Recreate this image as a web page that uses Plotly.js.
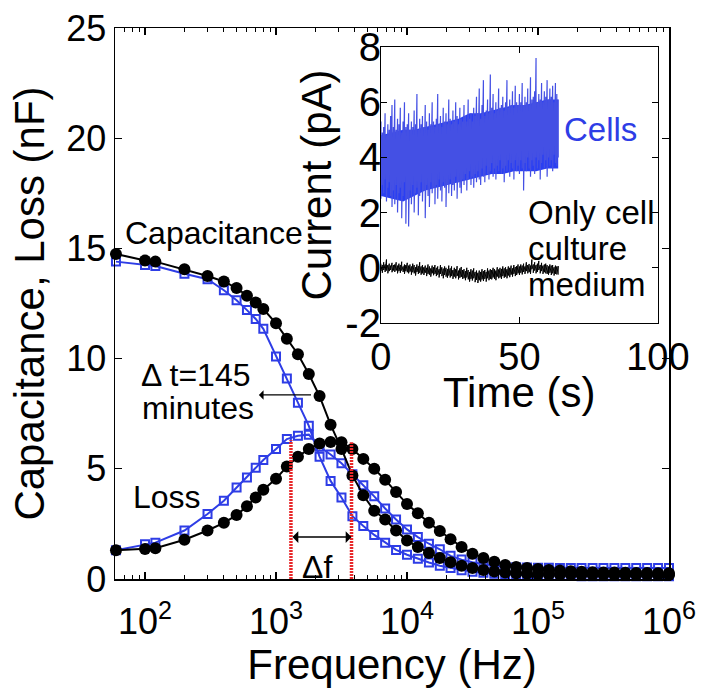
<!DOCTYPE html>
<html>
<head>
<meta charset="utf-8">
<script src="https://cdn.plot.ly/plotly-3.0.1.min.js"></script>
<style>
html,body{margin:0;padding:0;background:#fff;}
#chart{width:702px;height:688px;}
</style>
</head>
<body>
<div id="chart"></div>
<script>
// ---------- Main chart data: impedance sweep ----------
const frequencyHz = [60, 100, 120, 200, 300, 400, 500, 600, 700, 800,
  1000, 1210, 1470, 1780, 2150, 2610, 3160, 3830, 4640, 5620, 6810, 8250,
  10000, 12100, 14700, 17800, 21500, 26100, 31600, 38300, 46400, 56200, 68100, 82500,
  100000, 121000, 147000, 178000, 215000, 261000, 316000, 383000, 464000, 562000, 681000, 825000, 1000000];

// black filled circles: initial measurement
const capacitanceT0 = [14.75, 14.45, 14.4, 14.05, 13.75, 13.5, 13.2, 12.85, 12.55, 12.25,
  11.6, 10.9, 10.2, 9.3, 8.3, 7.0, 5.9, 4.7, 3.8, 3.1, 2.7, 2.2,
  1.75, 1.45, 1.18, 0.95, 0.76, 0.6, 0.5, 0.41, 0.34, 0.29, 0.26, 0.24,
  0.23, 0.22, 0.21, 0.21, 0.2, 0.2, 0.2, 0.19, 0.19, 0.19, 0.19, 0.18, 0.18];
const lossT0 = [1.3, 1.36, 1.4, 1.78, 2.2, 2.55, 2.9, 3.3, 3.7, 4.05,
  4.55, 5.1, 5.55, 5.9, 6.15, 6.22, 6.2, 5.9, 5.45, 5.0, 4.5, 3.95,
  3.4, 2.98, 2.55, 2.18, 1.8, 1.45, 1.15, 0.95, 0.78, 0.64, 0.55, 0.5,
  0.45, 0.41, 0.38, 0.35, 0.33, 0.31, 0.3, 0.29, 0.28, 0.27, 0.27, 0.26, 0.26];

// blue open squares: after 145 minutes
const capacitanceT145 = [14.4, 14.25, 14.2, 13.85, 13.6, 13.1, 12.65, 12.2, 11.8, 11.35,
  10.1, 9.1, 8.0, 6.95, 5.55, 4.45, 3.7, 2.85, 2.4, 2.0, 1.65, 1.32,
  1.1, 0.92, 0.75, 0.6, 0.5, 0.4, 0.33, 0.28, 0.24, 0.21, 0.19, 0.17,
  0.16, 0.15, 0.14, 0.14, 0.13, 0.13, 0.13, 0.12, 0.12, 0.12, 0.12, 0.12, 0.12];
const lossT145 = [1.3, 1.58, 1.65, 2.2, 2.95, 3.55, 4.15, 4.6, 5.05, 5.4,
  5.9, 6.35, 6.5, 6.55, 6.0, 5.65, 5.25, 4.75, 4.25, 3.75, 3.2, 2.7,
  2.25, 1.9, 1.6, 1.35, 1.05, 0.88, 0.76, 0.67, 0.6, 0.56, 0.53, 0.52,
  0.51, 0.51, 0.5, 0.5, 0.5, 0.5, 0.5, 0.5, 0.5, 0.5, 0.5, 0.5, 0.5];

// loss-peak markers (red dotted lines) and their heights
const peakFreqT145 = 1300;
const peakFreqT0 = 3770;
const peakLineTopT145 = 6.3;
const peakLineTopT0 = 6.2;

// tick labels
const freqTickVals = [1e2, 1e3, 1e4, 1e5, 1e6];
const freqTickText = ['10<sup>2</sup>', '10<sup>3</sup>', '10<sup>4</sup>', '10<sup>5</sup>', '10<sup>6</sup>'];
const capTickVals = [0, 5, 10, 15, 20, 25];
const timeTickVals = [0, 50, 100];
const currentTickVals = [-2, 0, 2, 4, 6, 8];
const currentTickText = ['-2', '0', '2', '4', '6', '8'];

// ---------- Inset data: current vs time ----------
// dense core of the "Cells" trace
const coreTimeS = [0, 4, 8, 12, 16, 20, 24, 28, 32, 36, 40, 44, 48, 52, 56, 60, 64];
const cellsCoreTop = [4.8, 4.9, 5.0, 5.0, 5.1, 5.2, 5.3, 5.4, 5.6, 5.6, 5.7, 5.8, 5.9, 5.9, 6.0, 6.1, 6.1];
const cellsCoreBottom = [2.6, 2.5, 2.4, 2.6, 2.8, 2.9, 3.0, 3.1, 3.2, 3.3, 3.4, 3.4, 3.5, 3.5, 3.5, 3.6, 3.6];
// upper / lower excursions of the noisy traces
const timeS = [0,0.5,1,1.5,2,2.5,3,3.5,4,4.5,5,5.5,6,6.5,7,7.5,8,8.5,9,9.5,
  10,10.5,11,11.5,12,12.5,13,13.5,14,14.5,15,15.5,16,16.5,17,17.5,18,18.5,19,19.5,
  20,20.5,21,21.5,22,22.5,23,23.5,24,24.5,25,25.5,26,26.5,27,27.5,28,28.5,29,29.5,
  30,30.5,31,31.5,32,32.5,33,33.5,34,34.5,35,35.5,36,36.5,37,37.5,38,38.5,39,39.5,
  40,40.5,41,41.5,42,42.5,43,43.5,44,44.5,45,45.5,46,46.5,47,47.5,48,48.5,49,49.5,
  50,50.5,51,51.5,52,52.5,53,53.5,54,54.5,55,55.5,56,56.5,57,57.5,58,58.5,59,59.5,
  60,60.5,61,61.5,62,62.5,63,63.5,64];
const cellsHigh = [5.3,4.9,5.1,5.6,4.8,5.2,5.0,5.5,5.9,5.1,
  6.1,5.0,5.4,5.2,5.8,4.9,5.3,6.0,5.1,5.2,
  5.6,5.0,5.3,5.1,5.7,5.2,6.3,5.0,5.4,5.2,
  5.5,5.1,5.9,5.3,5.0,5.6,5.2,6.0,5.3,5.1,
  5.4,6.3,5.2,5.5,5.1,5.8,5.3,5.6,5.2,6.1,
  5.4,5.2,5.7,5.3,6.0,5.5,5.2,5.8,5.4,5.3,
  5.9,5.5,5.3,6.1,5.4,5.6,5.3,5.8,5.5,6.2,
  5.6,6.5,5.4,5.9,6.8,5.5,5.7,6.1,5.6,7.0,
  5.8,6.3,5.6,6.0,5.7,6.5,5.8,5.9,6.2,5.7,
  6.0,6.8,5.8,6.1,5.9,6.4,5.8,6.6,6.0,5.9,
  6.3,6.0,6.7,5.9,6.2,6.0,6.5,5.9,6.9,6.1,
  6.2,6.4,7.6,6.0,6.3,6.1,6.7,6.0,6.4,6.2,
  6.8,6.1,6.5,6.2,6.6,6.0,6.7,6.3,6.1];
const cellsLow = [2.5,3.0,2.7,3.2,2.4,2.9,3.1,2.6,2.2,2.8,
  2.3,3.0,2.0,2.7,2.9,1.8,2.6,3.1,1.6,2.5,
  1.5,2.8,2.3,3.0,2.0,2.7,2.9,1.9,2.6,3.1,
  2.4,2.8,1.8,3.0,2.6,2.2,3.1,2.7,2.9,2.3,
  3.0,2.5,3.2,2.8,2.4,3.1,2.9,2.2,3.0,2.7,
  3.2,2.6,3.0,2.8,3.3,2.5,3.1,2.9,2.7,3.2,
  3.0,3.4,2.8,3.2,3.5,3.0,3.3,2.9,3.4,3.1,
  3.5,3.2,3.0,3.6,3.3,3.1,3.7,3.4,3.2,3.5,
  3.8,3.3,3.6,3.2,3.7,3.5,3.9,3.4,3.6,3.1,
  3.7,3.5,3.9,3.3,3.8,3.6,3.2,3.9,3.5,3.7,
  3.4,3.9,3.6,2.8,3.8,3.5,4.0,3.6,3.3,3.9,
  3.7,3.4,4.0,3.6,3.9,3.2,3.8,4.1,3.6,3.9,
  3.3,4.0,3.7,3.9,3.5,4.1,3.8,3.7,4.0];
const mediumHigh = [0.15,0.1,0.2,0.12,0.3,0.1,0.15,0.08,0.18,0.1,
  0.12,0.2,0.08,0.15,0.1,0.22,0.05,0.12,0.1,0.18,
  0.08,0.12,0.05,0.15,0.1,0.02,0.12,0.06,0.2,0.05,
  0.1,0.02,0.08,0.0,0.12,0.05,-0.02,0.08,0.02,0.1,
  0.0,0.05,-0.05,0.1,0.02,-0.03,0.05,0.0,-0.05,0.08,
  -0.02,0.05,-0.08,0.0,-0.05,0.06,-0.1,-0.02,0.03,-0.08,
  -0.05,-0.12,0.0,-0.08,-0.15,-0.05,-0.1,-0.02,-0.15,-0.1,
  -0.18,-0.1,-0.15,-0.05,-0.12,-0.08,-0.15,-0.02,-0.1,-0.05,
  -0.08,0.0,-0.05,-0.1,0.02,-0.06,0.0,-0.04,0.05,-0.02,
  0.02,-0.05,0.05,0.0,0.08,-0.02,0.1,0.03,0.06,0.12,
  0.05,0.12,0.08,0.15,0.05,0.2,0.1,0.14,0.08,0.3,
  0.12,0.2,0.1,0.15,0.25,0.1,0.18,0.08,0.12,0.15,
  0.1,0.05,0.12,0.08,0.1,0.02,0.08,0.05,0.06];
const mediumLow = [-0.12,-0.18,-0.08,-0.15,-0.1,-0.2,-0.12,-0.08,-0.16,-0.1,
  -0.15,-0.1,-0.2,-0.12,-0.18,-0.1,-0.15,-0.22,-0.12,-0.16,
  -0.2,-0.14,-0.25,-0.16,-0.2,-0.28,-0.15,-0.22,-0.18,-0.25,
  -0.2,-0.26,-0.18,-0.3,-0.22,-0.25,-0.32,-0.2,-0.27,-0.22,
  -0.3,-0.25,-0.35,-0.22,-0.3,-0.38,-0.26,-0.32,-0.36,-0.28,
  -0.35,-0.3,-0.4,-0.32,-0.38,-0.3,-0.42,-0.36,-0.33,-0.4,
  -0.38,-0.45,-0.35,-0.42,-0.5,-0.4,-0.46,-0.38,-0.52,-0.44,
  -0.55,-0.45,-0.5,-0.42,-0.48,-0.4,-0.5,-0.38,-0.45,-0.4,
  -0.42,-0.35,-0.4,-0.45,-0.32,-0.38,-0.35,-0.4,-0.3,-0.36,
  -0.32,-0.38,-0.28,-0.34,-0.25,-0.32,-0.22,-0.3,-0.26,-0.2,
  -0.26,-0.18,-0.24,-0.15,-0.22,-0.12,-0.2,-0.16,-0.22,-0.05,
  -0.18,-0.1,-0.2,-0.15,-0.08,-0.2,-0.12,-0.22,-0.16,-0.2,
  -0.22,-0.25,-0.18,-0.26,-0.2,-0.28,-0.22,-0.24,-0.25];

// ---------- styling ----------
const FONT = 'Liberation Sans, Arial, Helvetica, sans-serif';
const BLUE = '#2e3de6';
const CORE_BLUE = '#2a3ff2';
const SPIKE_BLUE = '#4450e4';
const BLACK = '#000000';
const RED = '#e8282a';

// interleave upper/lower excursions into one trace
function excursionTrace(t, hi, lo) {
  const x = [], y = [];
  for (let i = 0; i < t.length; i++) {
    x.push(t[i], t[i]);
    y.push(hi[i], lo[i]);
  }
  return {x, y};
}
const cellsTrace = excursionTrace(timeS, cellsHigh, cellsLow);
const mediumTrace = excursionTrace(timeS, mediumHigh, mediumLow);

const blueMarker = {symbol: 'square-open', size: 8, color: BLUE, line: {width: 2, color: BLUE}};
const blackMarker = {symbol: 'circle', size: 12, color: BLACK};

const traces = [
  {x: frequencyHz, y: capacitanceT145, mode: 'lines+markers', line: {color: BLUE, width: 2}, marker: blueMarker, cliponaxis: false, xaxis: 'x', yaxis: 'y'},
  {x: frequencyHz, y: lossT145, mode: 'lines+markers', line: {color: BLUE, width: 2}, marker: blueMarker, cliponaxis: false, xaxis: 'x', yaxis: 'y'},
  {x: frequencyHz, y: capacitanceT0, mode: 'lines+markers', line: {color: BLACK, width: 2}, marker: blackMarker, cliponaxis: false, xaxis: 'x', yaxis: 'y'},
  {x: frequencyHz, y: lossT0, mode: 'lines+markers', line: {color: BLACK, width: 2}, marker: blackMarker, cliponaxis: false, xaxis: 'x', yaxis: 'y'},
  {x: [peakFreqT145, peakFreqT145], y: [0, peakLineTopT145], mode: 'lines', line: {color: RED, width: 3.5, dash: '2px,1px'}, xaxis: 'x', yaxis: 'y'},
  {x: [peakFreqT0, peakFreqT0], y: [0, peakLineTopT0], mode: 'lines', line: {color: RED, width: 3.5, dash: '2px,1px'}, xaxis: 'x', yaxis: 'y'},
  {x: coreTimeS, y: cellsCoreBottom, mode: 'lines', line: {color: CORE_BLUE, width: 0}, xaxis: 'x2', yaxis: 'y2'},
  {x: coreTimeS, y: cellsCoreTop, mode: 'lines', fill: 'tonexty', fillcolor: CORE_BLUE, line: {color: CORE_BLUE, width: 0}, xaxis: 'x2', yaxis: 'y2'},
  {x: cellsTrace.x, y: cellsTrace.y, mode: 'lines', line: {color: SPIKE_BLUE, width: 1.2}, xaxis: 'x2', yaxis: 'y2'},
  {x: mediumTrace.x, y: mediumTrace.y, mode: 'lines', line: {color: BLACK, width: 1}, xaxis: 'x2', yaxis: 'y2'}
];

const L = Math.log10;
const textFont = {family: FONT, size: 32, color: BLACK};
const annotations = [
  {xref: 'x', yref: 'y', x: L(68), y: 15.7, text: 'Capacitance', showarrow: false, xanchor: 'left', yanchor: 'middle', font: textFont},
  {xref: 'x', yref: 'y', x: L(90), y: 9.25, text: 'Δ t=145', showarrow: false, xanchor: 'left', yanchor: 'middle', font: textFont},
  {xref: 'x', yref: 'y', x: L(92), y: 7.75, text: 'minutes', showarrow: false, xanchor: 'left', yanchor: 'middle', font: textFont},
  {xref: 'x', yref: 'y', x: L(78), y: 3.7, text: 'Loss', showarrow: false, xanchor: 'left', yanchor: 'middle', font: textFont},
  {xref: 'x', yref: 'y', x: L(2050), y: 0.55, text: 'Δf', showarrow: false, xanchor: 'center', yanchor: 'middle', font: textFont},
  // Δt arrow (pointing toward lower frequency)
  {xref: 'x', yref: 'y', axref: 'x', ayref: 'y', x: L(740), y: 8.35, ax: L(1900), ay: 8.35, text: '', showarrow: true, arrowhead: 1, arrowsize: 1.3, arrowwidth: 1.2, arrowcolor: BLACK},
  // Δf double arrow
  {xref: 'x', yref: 'y', axref: 'x', ayref: 'y', x: L(peakFreqT0), y: 1.9, ax: L(peakFreqT145), ay: 1.9, text: '', showarrow: true, arrowside: 'end+start', arrowhead: 1, arrowsize: 1.3, arrowwidth: 1.5, arrowcolor: BLACK},
  // inset x-axis title
  {xref: 'x2', yref: 'y2 domain', x: 50, y: -0.25, text: 'Time (s)', showarrow: false, xanchor: 'center', yanchor: 'middle', font: {family: FONT, size: 42, color: BLACK}},
  // inset labels
  {xref: 'x2', yref: 'y2', x: 65.5, y: 5.0, text: 'Cells', showarrow: false, xanchor: 'left', yanchor: 'middle', font: {family: FONT, size: 33, color: BLUE}},
  {xref: 'x2', yref: 'y2', x: 52.5, y: 2.0, text: 'Only cell', showarrow: false, xanchor: 'left', yanchor: 'middle', font: {family: FONT, size: 33, color: BLACK}},
  {xref: 'x2', yref: 'y2', x: 52.5, y: 0.7, text: 'culture', showarrow: false, xanchor: 'left', yanchor: 'middle', font: {family: FONT, size: 33, color: BLACK}},
  {xref: 'x2', yref: 'y2', x: 52.5, y: -0.62, text: 'medium', showarrow: false, xanchor: 'left', yanchor: 'middle', font: {family: FONT, size: 33, color: BLACK}}
];

const axisCommon = {
  showgrid: false, zeroline: false, showline: true, linecolor: BLACK, linewidth: 1.5,
  mirror: 'ticks', ticks: 'inside', tickcolor: BLACK, tickwidth: 1.2, ticklen: 7
};

const layout = {
  width: 702, height: 688,
  margin: {l: 115, r: 33, t: 28, b: 109, pad: 0},
  paper_bgcolor: '#ffffff', plot_bgcolor: '#ffffff',
  showlegend: false,
  font: {family: FONT, color: BLACK},
  xaxis: Object.assign({}, axisCommon, {
    type: 'log', range: [L(59), 6], domain: [0, 1], anchor: 'y',
    tickmode: 'array', tickvals: freqTickVals, ticktext: freqTickText,
    tickfont: {family: FONT, size: 36, color: BLACK},
    ticklabelstandoff: 10,
    minor: {ticks: 'inside', ticklen: 4, tickwidth: 1, tickcolor: BLACK, dtick: 'D1', showgrid: false},
    title: {text: 'Frequency (Hz)', font: {family: FONT, size: 42, color: BLACK}, standoff: 2}
  }),
  yaxis: Object.assign({}, axisCommon, {
    range: [0, 25], domain: [0, 1], anchor: 'x',
    tickmode: 'array', tickvals: capTickVals,
    tickfont: {family: FONT, size: 36, color: BLACK},
    title: {text: 'Capacitance, Loss (nF)', font: {family: FONT, size: 42, color: BLACK}, standoff: 8}
  }),
  xaxis2: Object.assign({}, axisCommon, {
    range: [0, 100], domain: [0.480, 0.980], anchor: 'y2', linewidth: 1, ticklen: 6,
    tickmode: 'array', tickvals: timeTickVals,
    tickfont: {family: FONT, size: 38, color: BLACK}
  }),
  yaxis2: Object.assign({}, axisCommon, {
    range: [-2, 8], domain: [0.4646, 0.9655], anchor: 'x2', linewidth: 1, ticklen: 6,
    tickmode: 'array', tickvals: currentTickVals, ticktext: currentTickText,
    tickfont: {family: FONT, size: 40, color: BLACK},
    ticklabelstandoff: -9,
    title: {text: 'Current (pA)', font: {family: FONT, size: 42, color: BLACK}, standoff: 0}
  }),
  annotations: annotations
};

Plotly.newPlot('chart', traces, layout, {staticPlot: true, displayModeBar: false});
</script>
</body>
</html>
